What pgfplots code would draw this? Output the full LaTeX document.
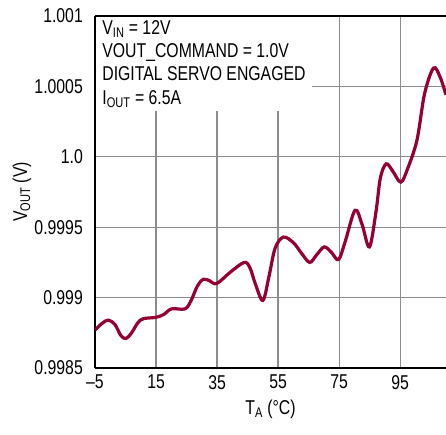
\documentclass[border=0pt]{standalone}
\usepackage{fontspec}
\setmainfont{Liberation Sans}[FakeStretch=0.79]
\usepackage{pgfplots}
\pgfplotsset{compat=1.18}
\definecolor{curve}{RGB}{150,0,48}
\definecolor{gridc}{RGB}{140,140,140}
\begin{document}
\begin{tikzpicture}
\begin{axis}[
  scale only axis,
  width=351bp, height=352bp,
  xmin=-5, xmax=110, ymin=0.9985, ymax=1.001,
  axis x line*=box, axis y line*=left,
  axis line style={black, line width=1.8bp},
  xtick={-5,15,35,55,75,95},
  xticklabels={--5,15,35,55,75,95},
  ytick={0.9985,0.999,0.9995,1.0,1.0005,1.001},
  yticklabels={0.9985,0.999,0.9995,1.0,1.0005,1.001},
  major tick length=0pt,
  grid=major,
  major grid style={gridc, line width=1.3bp},
  tick label style={font=\fontsize{20bp}{23bp}\selectfont, inner sep=0pt},
  xticklabel style={anchor=north, yshift=-7bp},
  yticklabel style={anchor=east, xshift=-12bp},
  xlabel={T\textsubscript{A} (°C)},
  ylabel={V\textsubscript{OUT} (V)},
  label style={font=\fontsize{20bp}{23bp}\selectfont, inner sep=0pt},
  xlabel style={at={(axis description cs:0.5,-0.1307)}, anchor=base},
  ylabel style={at={(axis description cs:-0.1937,0.5)}, anchor=base},
  clip=true,
]
\addplot[curve, line width=3.2bp, smooth, tension=0.55] coordinates {
(-5,0.99877) (-2.5,0.99882) (-0.6,0.99884) (1.5,0.99881) (3.5,0.99873)
(5.2,0.99871) (7,0.99875) (9,0.99882) (10.8,0.99885) (15,0.99886)
(17.5,0.99888) (20.1,0.99892) (24.5,0.99892) (26.5,0.99898) (28.5,0.99908)
(30.5,0.99913) (32.5,0.99912) (34.9,0.99910) (39.3,0.99918) (43.9,0.99925)
(45.8,0.99921) (47.5,0.99910) (50,0.99898) (52,0.99915) (54,0.99935)
(56.7,0.99943) (60,0.99939) (62.5,0.99932) (65.3,0.99925) (67.5,0.99930)
(70.1,0.99936) (72.5,0.99932) (74.8,0.99927) (77,0.99940) (80.2,0.99962)
(82.5,0.99952) (84.9,0.99936) (87,0.99960) (88.5,0.99985) (90.4,0.99995)
(92.5,0.99990) (95.2,0.99982) (97.5,0.99992) (100.5,1.00012) (103,1.00045)
(105.9,1.00063) (108,1.00057) (110,1.00044)
};
\node[anchor=north west, fill=white, inner xsep=6bp, inner ysep=3bp, align=left,
  font=\fontsize{20bp}{23.3bp}\selectfont]
  at ([shift={(1.2bp,-1.2bp)}]rel axis cs:0,1)
  {V\textsubscript{IN} = 12V\\VOUT\_COMMAND = 1.0V\\DIGITAL SERVO ENGAGED\\I\textsubscript{OUT} = 6.5A};
\node[anchor=base east, inner sep=0pt, font=\fontsize{10bp}{12bp}\selectfont]
  at (axis description cs:0.9886,-0.179) {38821 G01};
\coordinate (bl) at (rel axis cs:0,0);
\coordinate (tr) at (rel axis cs:1,1);
\end{axis}
\pgfresetboundingbox
\path ([shift={(-95bp,-67bp)}]bl) rectangle ([shift={(0bp,16bp)}]tr);
\end{tikzpicture}
\end{document}
